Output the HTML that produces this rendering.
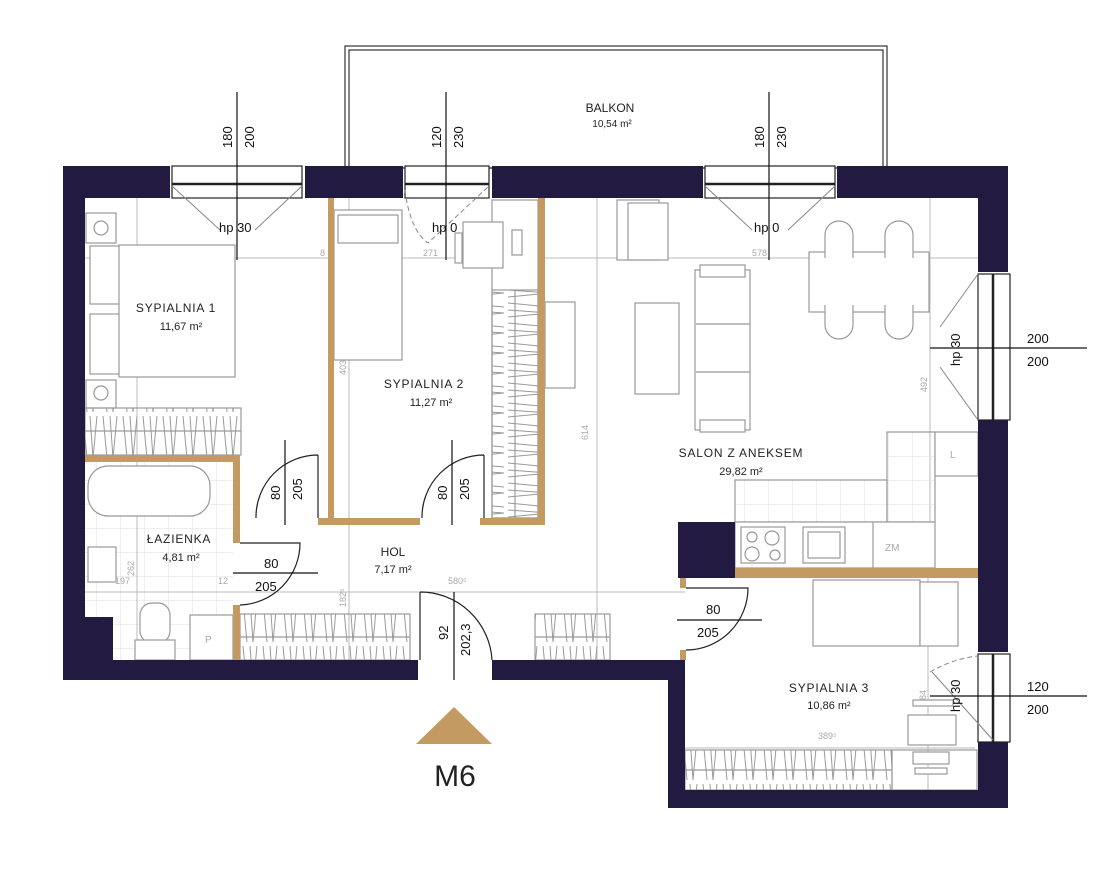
<!DOCTYPE html>
<html><head><meta charset="utf-8"><style>
html,body{margin:0;padding:0;background:#fff;width:1120px;height:869px;overflow:hidden}
svg{display:block}
text{font-family:"Liberation Sans",sans-serif}
</style></head><body>
<svg width="1120" height="869" viewBox="0 0 1120 869" xmlns="http://www.w3.org/2000/svg">
<defs>
<pattern id="zz" width="20" height="46" patternUnits="userSpaceOnUse">
<path d="M3 2 L7 44 M10 2 L13 44 M13 44 L17 2" stroke="#999" stroke-width="1" fill="none"/>
</pattern>
<pattern id="zzv" width="46" height="20" patternUnits="userSpaceOnUse">
<path d="M2 3 L44 7 M2 10 L44 13 M44 13 L2 17" stroke="#999" stroke-width="1" fill="none"/>
</pattern>
<pattern id="tile" width="24" height="24" patternUnits="userSpaceOnUse">
<path d="M0 0 H24 M0 0 V24" stroke="#ddd" stroke-width="1" fill="none"/>
</pattern>
</defs>

<rect x="345" y="46" width="542" height="122" fill="none" stroke="#333" stroke-width="1.2"/>
<rect x="349" y="50" width="534" height="118" fill="none" stroke="#333" stroke-width="1.2"/>
<text x="610" y="112" font-size="12" text-anchor="middle" fill="#222">BALKON</text>
<text x="612" y="127" font-size="10" text-anchor="middle" fill="#222">10,54 m²</text>

<rect x="85" y="462" width="148" height="198" fill="url(#tile)"/>

<g stroke="#bbb" stroke-width="1" fill="none">
<line x1="70" y1="258" x2="985" y2="258"/>
<line x1="70" y1="592" x2="685" y2="592"/>
<line x1="685" y1="748" x2="975" y2="748"/>
<line x1="137" y1="198" x2="137" y2="455"/>
<line x1="137" y1="462" x2="137" y2="660"/>
<line x1="349" y1="198" x2="349" y2="660"/>
<line x1="597" y1="198" x2="597" y2="660"/>
<line x1="930" y1="198" x2="930" y2="570"/>
<line x1="928" y1="578" x2="928" y2="800"/>
</g>
<g font-size="9" fill="#aaa">
<text x="193" y="256">322</text><text x="320" y="256">8</text><text x="423" y="256">271</text><text x="528" y="256">8</text><text x="752" y="256">578</text>
<text x="115" y="584">197</text><text x="218" y="584">12</text><text x="448" y="584">580⁵</text><text x="818" y="739">389⁵</text>
<text transform="translate(134,338) rotate(-90)">340</text>
<text transform="translate(346,375) rotate(-90)">403⁵</text>
<text transform="translate(588,440) rotate(-90)">614</text>
<text transform="translate(927,392) rotate(-90)">492</text>
<text transform="translate(134,576) rotate(-90)">262</text>
<text transform="translate(346,607) rotate(-90)">182⁵</text>
<text transform="translate(926,705) rotate(-90)">284</text>
</g>

<g stroke="#999" stroke-width="1.2" fill="#fff">
<rect x="90" y="246" width="30" height="58"/><rect x="90" y="314" width="30" height="60"/>
<rect x="119" y="245" width="116" height="132"/>
<rect x="86" y="213" width="30" height="30"/><circle cx="101" cy="228" r="7"/>
<rect x="86" y="380" width="30" height="28"/><circle cx="101" cy="393" r="7"/>
<rect x="85" y="408" width="156" height="47" fill="url(#zz)"/>
<line x1="85" y1="431" x2="241" y2="431"/>
<rect x="88" y="466" width="122" height="50" rx="20"/>
<rect x="88" y="547" width="28" height="35"/>
<rect x="140" y="603" width="30" height="40" rx="12"/><rect x="135" y="640" width="40" height="20"/>
<rect x="190" y="615" width="43" height="45"/>
<rect x="334" y="210" width="68" height="150"/><rect x="338" y="215" width="60" height="28"/>
<rect x="492" y="200" width="46" height="318" />
<rect x="492" y="290" width="46" height="228" fill="url(#zzv)"/>
<line x1="515" y1="290" x2="515" y2="518"/>
<rect x="463" y="222" width="40" height="46"/><rect x="455" y="233" width="7" height="30"/>
<rect x="512" y="230" width="10" height="25"/>
<rect x="545" y="302" width="30" height="86"/>
<rect x="617" y="200" width="42" height="60"/><rect x="628" y="203" width="40" height="57"/>
<rect x="635" y="303" width="44" height="91"/>
<rect x="695" y="270" width="55" height="160"/>
<rect x="700" y="265" width="45" height="12"/><rect x="700" y="420" width="45" height="12"/>
<line x1="696" y1="324" x2="750" y2="324"/><line x1="696" y1="372" x2="750" y2="372"/>
<rect x="809" y="252" width="120" height="60"/>
<path d="M825 258 V235 a14 14 0 0 1 28 0 V258 M885 258 V235 a14 14 0 0 1 28 0 V258"/>
<path d="M825 305 V325 a14 14 0 0 0 28 0 V305 M885 305 V325 a14 14 0 0 0 28 0 V305"/>
<rect x="887" y="432" width="48" height="90" fill="url(#tile)"/>
<rect x="935" y="432" width="43" height="44"/>
<rect x="735" y="480" width="152" height="42" fill="url(#tile)"/>
<rect x="735" y="522" width="200" height="46"/>
<rect x="741" y="527" width="44" height="36"/>
<circle cx="752" cy="537" r="5"/><circle cx="772" cy="538" r="7"/><circle cx="752" cy="554" r="7"/><circle cx="775" cy="555" r="5"/>
<rect x="803" y="527" width="42" height="36"/><rect x="808" y="532" width="32" height="26"/>
<line x1="873" y1="522" x2="873" y2="568"/>
<rect x="813" y="580" width="107" height="66"/><rect x="920" y="582" width="38" height="64"/>
<rect x="685" y="750" width="207" height="40" fill="url(#zz)"/>
<line x1="685" y1="770" x2="892" y2="770"/>
<rect x="892" y="750" width="85" height="40" fill="none"/>
<rect x="908" y="715" width="48" height="30"/><rect x="913" y="700" width="40" height="6"/>
<rect x="913" y="752" width="36" height="12"/><rect x="915" y="768" width="32" height="6"/>
<rect x="240" y="614" width="170" height="46" fill="url(#zz)"/>
<line x1="240" y1="637" x2="410" y2="637"/>
<rect x="535" y="614" width="75" height="46" fill="url(#zz)"/>
<line x1="535" y1="637" x2="610" y2="637"/>
</g>
<g font-size="10" fill="#aaa"><text x="205" y="643">P</text><text x="885" y="551">ZM</text><text x="950" y="458">L</text></g>

<g fill="#c49a63">
<rect x="328" y="198" width="6" height="327"/>
<rect x="538" y="198" width="7" height="327"/>
<rect x="318" y="518" width="102" height="7"/>
<rect x="480" y="518" width="65" height="7"/>
<rect x="85" y="455" width="155" height="7"/>
<rect x="233" y="455" width="7" height="88"/>
<rect x="233" y="605" width="7" height="55"/>
<rect x="735" y="568" width="243" height="10"/>
<rect x="680" y="578" width="6" height="10"/>
<rect x="680" y="650" width="6" height="10"/>
</g>

<g fill="#221a40">
<rect x="63" y="166" width="107" height="32"/>
<rect x="305" y="166" width="98" height="32"/>
<rect x="492" y="166" width="211" height="32"/>
<rect x="837" y="166" width="171" height="32"/>
<rect x="63" y="166" width="22" height="514"/>
<rect x="63" y="617" width="50" height="63"/>
<rect x="63" y="660" width="355" height="20"/>
<rect x="492" y="660" width="193" height="20"/>
<rect x="668" y="660" width="17" height="148"/>
<rect x="668" y="790" width="340" height="18"/>
<rect x="978" y="166" width="30" height="106"/>
<rect x="978" y="420" width="30" height="232"/>
<rect x="978" y="742" width="30" height="66"/>
<rect x="678" y="522" width="57" height="56"/>
</g>

<g stroke="#222" stroke-width="1.2" fill="#fff">
<rect x="172" y="166" width="130" height="32"/><line x1="172" y1="184" x2="302" y2="184" stroke-width="2.5"/>
<rect x="405" y="166" width="84" height="32"/><line x1="405" y1="184" x2="489" y2="184" stroke-width="2.5"/>
<rect x="705" y="166" width="130" height="32"/><line x1="705" y1="184" x2="835" y2="184" stroke-width="2.5"/>
<rect x="978" y="274" width="32" height="146"/><line x1="993" y1="274" x2="993" y2="420" stroke-width="2.5"/>
<rect x="978" y="654" width="32" height="88"/><line x1="993" y1="654" x2="993" y2="742" stroke-width="2.5"/>
</g>
<g stroke="#888" stroke-width="1" fill="none">
<path d="M172 186 L220 230 M302 186 L255 230"/>
<path d="M705 186 L752 230 M835 186 L788 230"/>
<path d="M405 190 Q410 230 428 243 L489 186" stroke-dasharray="5 3"/>
<path d="M978 274 L940 327 M978 420 L940 367"/>
<path d="M930 672 Q955 658 978 656" stroke-dasharray="5 3"/><path d="M932 672 L993 740"/>
</g>

<g stroke="#222" stroke-width="1.2" fill="none">
<path d="M318 455 L318 518 M318 455 A62 62 0 0 0 256 518"/>
<path d="M484 455 L484 518 M484 455 A62 62 0 0 0 422 518"/>
<path d="M240 543 L300 543 A62 62 0 0 1 240 605"/>
<path d="M420 592 A72 72 0 0 1 492 660 M420 592 V660"/>
<path d="M686 588 L748 588 A62 62 0 0 1 686 650"/>
</g>

<g stroke="#111" stroke-width="1.2">
<line x1="237" y1="92" x2="237" y2="260"/>
<line x1="446" y1="92" x2="446" y2="260"/>
<line x1="769" y1="92" x2="769" y2="260"/>
<line x1="930" y1="348" x2="1087" y2="348"/>
<line x1="930" y1="696" x2="1087" y2="696"/>
<line x1="285" y1="440" x2="285" y2="525"/>
<line x1="452" y1="440" x2="452" y2="525"/>
<line x1="233" y1="573" x2="318" y2="573"/>
<line x1="454" y1="592" x2="454" y2="680"/>
<line x1="677" y1="620" x2="762" y2="620"/>
</g>
<g font-size="13" fill="#111">
<text transform="translate(232,148) rotate(-90)">180</text><text transform="translate(254,148) rotate(-90)">200</text>
<text transform="translate(441,148) rotate(-90)">120</text><text transform="translate(463,148) rotate(-90)">230</text>
<text transform="translate(764,148) rotate(-90)">180</text><text transform="translate(786,148) rotate(-90)">230</text>
<text x="1027" y="343">200</text><text x="1027" y="366">200</text>
<text x="1027" y="691">120</text><text x="1027" y="714">200</text>
<text transform="translate(280,500) rotate(-90)">80</text><text transform="translate(302,500) rotate(-90)">205</text>
<text transform="translate(447,500) rotate(-90)">80</text><text transform="translate(469,500) rotate(-90)">205</text>
<text x="264" y="568">80</text><text x="255" y="591">205</text>
<text transform="translate(448,640) rotate(-90)">92</text><text transform="translate(470,656) rotate(-90)">202,3</text>
<text x="706" y="614">80</text><text x="697" y="637">205</text>
<text x="219" y="232">hp 30</text><text x="432" y="232">hp 0</text><text x="754" y="232">hp 0</text>
<text transform="translate(960,366) rotate(-90)">hp 30</text>
<text transform="translate(960,712) rotate(-90)">hp 30</text>
</g>

<g fill="#222" text-anchor="middle">
<text x="176" y="312" font-size="12" letter-spacing="0.8">SYPIALNIA 1</text><text x="181" y="330" font-size="11">11,67 m²</text>
<text x="424" y="388" font-size="12" letter-spacing="0.8">SYPIALNIA 2</text><text x="431" y="406" font-size="11">11,27 m²</text>
<text x="741" y="457" font-size="12" letter-spacing="0.8">SALON Z ANEKSEM</text><text x="741" y="475" font-size="11">29,82 m²</text>
<text x="179" y="543" font-size="12" letter-spacing="0.8">ŁAZIENKA</text><text x="181" y="561" font-size="11">4,81 m²</text>
<text x="393" y="556" font-size="12">HOL</text><text x="393" y="573" font-size="11">7,17 m²</text>
<text x="829" y="692" font-size="12" letter-spacing="0.8">SYPIALNIA 3</text><text x="829" y="709" font-size="11">10,86 m²</text>
</g>

<polygon points="454,707 492,744 416,744" fill="#c49a63"/>
<text x="455" y="786" font-size="30" text-anchor="middle" fill="#222">M6</text>
</svg>
</body></html>
